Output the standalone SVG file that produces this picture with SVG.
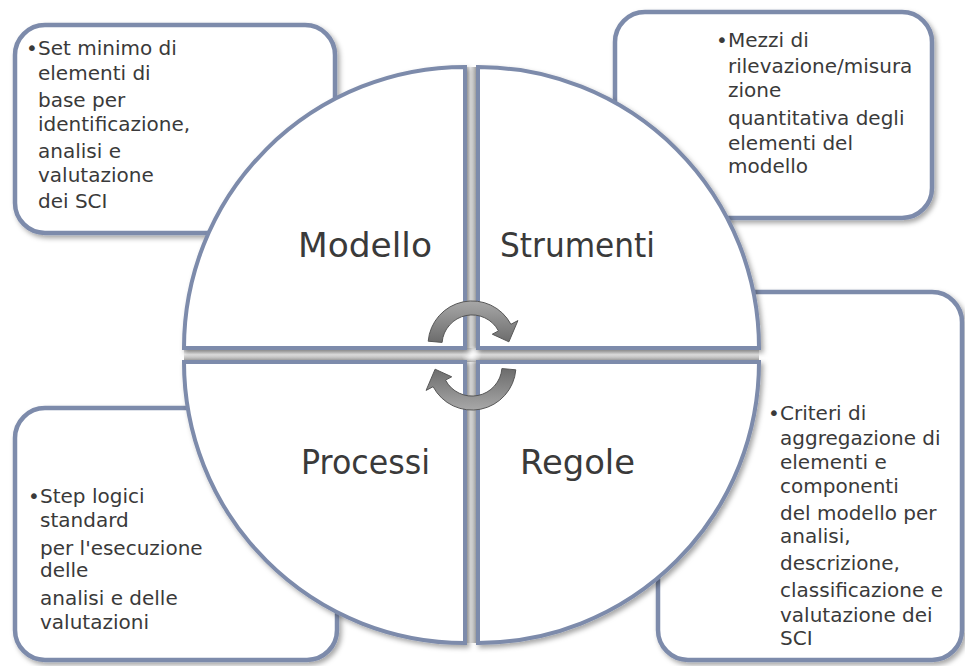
<svg xmlns="http://www.w3.org/2000/svg" width="965" height="666" viewBox="0 0 965 666">
<defs>
<filter id="sh" x="-10%" y="-10%" width="125%" height="125%">
<feDropShadow dx="2.5" dy="3" stdDeviation="2.5" flood-color="#000" flood-opacity="0.35"/>
</filter>
<linearGradient id="gv" x1="0" y1="0" x2="1" y2="0">
<stop offset="0" stop-color="#c4c4c4"/>
<stop offset="0.4" stop-color="#f0f0f0"/>
<stop offset="1" stop-color="#8a8a8a"/>
</linearGradient>
<linearGradient id="gh" x1="0" y1="0" x2="0" y2="1">
<stop offset="0" stop-color="#bdbdbd"/>
<stop offset="0.45" stop-color="#f0f0f0"/>
<stop offset="1" stop-color="#8a8a8a"/>
</linearGradient>
<linearGradient id="ga" x1="0" y1="0" x2="0" y2="1">
<stop offset="0" stop-color="#a8a8a8"/>
<stop offset="1" stop-color="#6c6c6c"/>
</linearGradient>
<radialGradient id="gc" cx="0.5" cy="0.5" r="0.5">
<stop offset="0" stop-color="#ffffff"/>
<stop offset="1" stop-color="#ffffff" stop-opacity="0"/>
</radialGradient>
</defs>
<style>
.box{fill:#fff;stroke:#7d8bab;stroke-width:4.5;filter:url(#sh)}
.q{fill:#fff;stroke:#7d8bab;stroke-width:4;filter:url(#sh)}
.t{font-family:"DejaVu Sans",sans-serif;font-size:20px;fill:#3a3a3a}
.lab{font-family:"DejaVu Sans",sans-serif;font-size:33px;fill:#3a3a3a}
.arr{fill:url(#ga);stroke:#575757;stroke-width:1}
</style>

<g id="box-modello">
<rect class="box" x="15" y="25" width="320" height="208" rx="30"/>
<text class="t"><tspan x="26" y="55">•</tspan><tspan x="38" y="55">Set minimo di</tspan><tspan x="38" y="80">elementi di</tspan><tspan x="38" y="107">base per</tspan><tspan x="38" y="131">identificazione,</tspan><tspan x="38" y="158">analisi e</tspan><tspan x="38" y="182">valutazione</tspan><tspan x="38" y="208">dei SCI</tspan></text>
</g>

<g id="box-strumenti">
<rect class="box" x="615" y="12" width="317" height="206" rx="30"/>
<text class="t"><tspan x="716" y="47">•</tspan><tspan x="728" y="47">Mezzi di</tspan><tspan x="728" y="73">rilevazione/misura</tspan><tspan x="728" y="97">zione</tspan><tspan x="728" y="125">quantitativa degli</tspan><tspan x="728" y="150">elementi del</tspan><tspan x="728" y="173">modello</tspan></text>
</g>

<g id="box-processi">
<rect class="box" x="15" y="408" width="322" height="252" rx="30"/>
<text class="t"><tspan x="28" y="503">•</tspan><tspan x="40" y="503">Step logici</tspan><tspan x="40" y="527">standard</tspan><tspan x="40" y="555">per l'esecuzione</tspan><tspan x="40" y="577">delle</tspan><tspan x="40" y="605">analisi e delle</tspan><tspan x="40" y="629">valutazioni</tspan></text>
</g>

<g id="box-regole">
<rect class="box" x="658" y="292" width="304" height="368" rx="30"/>
<text class="t"><tspan x="768" y="420">•</tspan><tspan x="780" y="420">Criteri di</tspan><tspan x="780" y="445">aggregazione di</tspan><tspan x="780" y="469">elementi e</tspan><tspan x="780" y="493">componenti</tspan><tspan x="780" y="520">del modello per</tspan><tspan x="780" y="543">analisi,</tspan><tspan x="780" y="570">descrizione,</tspan><tspan x="780" y="597">classificazione e</tspan><tspan x="780" y="622">valutazione dei</tspan><tspan x="780" y="645">SCI</tspan></text>
</g>

<g id="gaps">
<rect x="465" y="67" width="13" height="576" fill="url(#gv)"/>
<rect x="184" y="348" width="575" height="14" fill="url(#gh)"/>
<circle cx="471.5" cy="355" r="10" fill="url(#gc)"/>
</g>

<g id="q-modello">
<path class="q" d="M465,348 L184,348 A281,281 0 0 1 465,67 Z"/>
<text class="lab" x="298" y="257" textLength="134" lengthAdjust="spacingAndGlyphs">Modello</text>
</g>
<g id="q-strumenti">
<path class="q" d="M478,348 L478,67 A281,281 0 0 1 759,348 Z"/>
<text class="lab" x="500" y="257" textLength="155" lengthAdjust="spacingAndGlyphs">Strumenti</text>
</g>
<g id="q-processi">
<path class="q" d="M465,362 L465,643 A281,281 0 0 1 184,362 Z"/>
<text class="lab" x="301" y="474" textLength="129" lengthAdjust="spacingAndGlyphs">Processi</text>
</g>
<g id="q-regole">
<path class="q" d="M478,362 L759,362 A281,281 0 0 1 478,643 Z"/>
<text class="lab" x="520" y="474" textLength="115" lengthAdjust="spacingAndGlyphs">Regole</text>
</g>

<g id="connectors">
<path class="arr" d="M428.2,341.2 A44,44 0 0 1 510.9,324.3 L517.9,320.6 L508.9,341.8 L492.3,334.2 L498.5,330.9 A30,30 0 0 0 442.1,342.4 Z"/>
<path class="arr" transform="rotate(180 472 355.5)" d="M428.2,341.2 A44,44 0 0 1 510.9,324.3 L517.9,320.6 L508.9,341.8 L492.3,334.2 L498.5,330.9 A30,30 0 0 0 442.1,342.4 Z"/>
</g>
</svg>
